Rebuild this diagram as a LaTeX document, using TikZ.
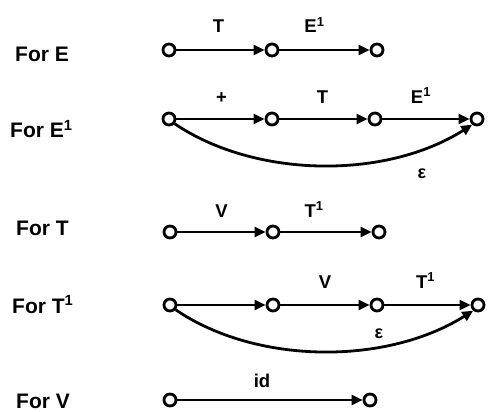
\documentclass[tikz,border=0pt]{standalone}
\usepackage{fontspec}
\setmainfont{Liberation Sans}
\usetikzlibrary{arrows.meta}
\begin{document}
\begin{tikzpicture}[x=1pt,y=-1pt,
  st/.style={circle,draw,line width=2.8pt,minimum size=12pt,inner sep=0pt},
  tr/.style={line width=2.8pt,-{Triangle[length=11pt,width=10pt]}},
  rowlbl/.style={anchor=base west,inner sep=0pt,font=\fontsize{21}{24}\selectfont\bfseries},
  lbl/.style={anchor=base,inner sep=0pt,font=\fontsize{18.5}{20}\selectfont\bfseries},
  eps/.style={inner sep=0pt,font=\fontsize{18}{20}\selectfont\bfseries}]
\useasboundingbox (0,0) rectangle (488,412);
% row labels
\node[rowlbl] (lE)  at (15,62)  {For E};
\node[rowlbl] (lEp) at (10,138) {For E\textsuperscript{1}};
\node[rowlbl] (lT)  at (16,235) {For T};
\node[rowlbl] (lTp) at (12,313) {For T\textsuperscript{1}};
\node[rowlbl] (lV)  at (16,408) {For V};
% For E
\node[st] (e1) at (169,50) {};
\node[st] (e2) at (272,50) {};
\node[st] (e3) at (377,50) {};
\draw[tr] (e1) -- node[lbl,xshift=-2pt,yshift=17pt] (le1) {T} (e2);
\draw[tr] (e2) -- node[lbl,xshift=-10pt,yshift=17pt] (le2) {E\textsuperscript{1}} (e3);
% For E'
\node[st] (ep1) at (169,119) {};
\node[st] (ep2) at (272,119) {};
\node[st] (ep3) at (375,119) {};
\node[st] (ep4) at (477,119) {};
\draw[tr] (ep1) -- node[lbl,xshift=1pt,yshift=16pt] (lep1) {+} (ep2);
\draw[tr] (ep2) -- node[lbl,xshift=-1pt,yshift=16pt] (lep2) {T} (ep3);
\draw[tr] (ep3) -- node[lbl,xshift=-5pt,yshift=16pt] (lep3) {E\textsuperscript{1}} (ep4);
\draw[tr] (ep1.-40) .. controls (255,178) and (385,180) .. (ep4.-130);
\node[eps] (epsA) at (422,174) {ε};
% For T
\node[st] (t1) at (170,232) {};
\node[st] (t2) at (273,232) {};
\node[st] (t3) at (379,232) {};
\draw[tr] (t1) -- node[lbl,xshift=0pt,yshift=15pt] (lt1) {V} (t2);
\draw[tr] (t2) -- node[lbl,xshift=-12pt,yshift=15pt] (lt2) {T\textsuperscript{1}} (t3);
% For T'
\node[st] (tp1) at (170,305) {};
\node[st] (tp2) at (273,305) {};
\node[st] (tp3) at (377,305) {};
\node[st] (tp4) at (478,305) {};
\draw[tr] (tp1) -- (tp2);
\draw[tr] (tp2) -- node[lbl,xshift=0pt,yshift=17pt] (ltp2) {V} (tp3);
\draw[tr] (tp3) -- node[lbl,xshift=-2pt,yshift=17pt] (ltp3) {T\textsuperscript{1}} (tp4);
\draw[tr] (tp1.-40) .. controls (255,364) and (385,366) .. (tp4.-130);
\node[eps] (epsB) at (379,334) {ε};
% For V
\node[st] (v1) at (170,400) {};
\node[st] (v2) at (370,400) {};
\draw[tr] (v1) -- node[lbl,xshift=-8pt,yshift=13pt] (lv1) {id} (v2);
\end{tikzpicture}
\end{document}
